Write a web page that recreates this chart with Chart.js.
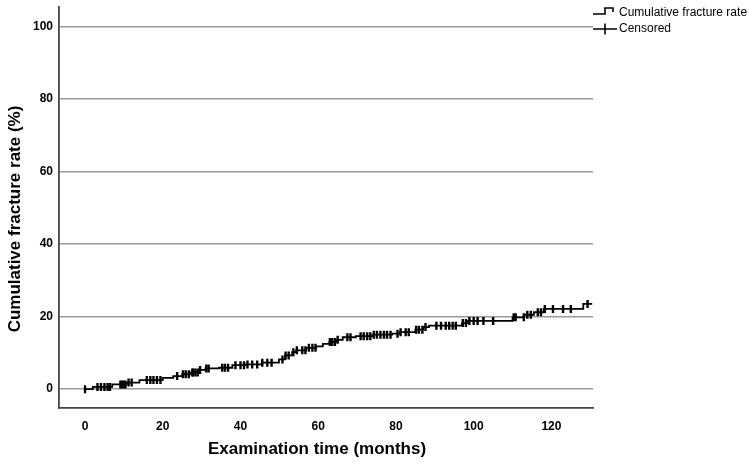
<!DOCTYPE html>
<html>
<head>
<meta charset="utf-8">
<script src="https://cdn.jsdelivr.net/npm/chart.js@4.4.1/dist/chart.umd.min.js"></script>
<style>
html,body{margin:0;padding:0;background:#fff;}
#wrap{position:relative;width:749px;height:467px;}
</style>
</head>
<body>
<div id="wrap"><canvas id="c" width="749" height="467"></canvas></div>
<script>
// Step curve: event times (months) and cumulative fracture rate (%)
const eventTimes  = [0, 2, 7, 10.7, 14, 20, 22.7, 25, 27, 29.2, 31, 34.5, 37.9, 41.3, 45.6, 49.9, 51.5, 53.3, 54.3, 56.9, 59.5, 61.2, 62.9, 64.6, 66.3, 69.7, 74, 79, 81, 85, 87, 88.5, 97, 98.5, 110, 113, 115.5, 118, 128.2, 130.5];
const eventValues = [0, 0.6, 1.3, 1.8, 2.5, 3.1, 3.6, 4.1, 4.6, 5.3, 5.7, 5.9, 6.6, 6.8, 7.3, 8.2, 9.3, 10.2, 10.7, 11.4, 11.8, 12.5, 13.0, 13.6, 14.3, 14.6, 15.0, 15.3, 15.7, 16.4, 17.1, 17.5, 18.2, 18.8, 19.8, 20.5, 21.2, 22.1, 23.5, 23.5];
// Censored observation times (months)
const censorTimes = [0, 3.2, 4.1, 5, 5.8, 6.4, 9.1, 9.5, 10, 10.4, 11.2, 12, 15.9, 16.8, 17.6, 18.5, 19.4, 23.7, 25.2, 25.9, 26.7, 27.6, 27.8, 28.4, 29, 29.6, 31.2, 31.8, 35.3, 36, 36.8, 38.7, 40, 40.9, 41.8, 43, 44.3, 45.6, 46.9, 48, 50.8, 51.6, 52.4, 53.6, 54.5, 55.9, 56.7, 57.6, 58.5, 59.3, 63, 63.6, 64.3, 65, 67.5, 68.3, 70.9, 71.7, 72.6, 73.4, 74.3, 75.1, 76, 76.9, 77.7, 78.6, 80.4, 81.2, 82.5, 83.3, 85.2, 85.9, 86.8, 87.6, 90.4, 91.6, 92.8, 93.7, 94.6, 95.4, 97.2, 98, 98.9, 100, 101, 102.5, 105, 110.3, 110.8, 112.9, 113.8, 114.7, 116.5, 117.3, 118.3, 120.4, 123, 125, 129.3];
const xTicks = [0, 20, 40, 60, 80, 100, 120];
const yTicks = [0, 20, 40, 60, 80, 100];
const xTitle = 'Examination time (months)';
const yTitle = 'Cumulative fracture rate (%)';
const legendLabels = ['Cumulative fracture rate', 'Censored'];

function valueAt(t) {
  let v = 0;
  for (let i = 0; i < eventTimes.length; i++) { if (eventTimes[i] <= t) v = eventValues[i]; }
  return v;
}
const curveData = eventTimes.map((t, i) => ({x: t, y: eventValues[i]}));
const censorData = censorTimes.map(t => ({x: t, y: valueAt(t)}));

const FONT = "'Liberation Sans', Arial, sans-serif";

const customDraw = {
  id: 'customDraw',
  afterDraw(chart) {
    const ctx = chart.ctx;
    ctx.save();
    ctx.fillStyle = '#000';
    // axis titles
    ctx.font = 'bold 17px ' + FONT;
    ctx.textAlign = 'center';
    ctx.textBaseline = 'middle';
    ctx.fillText(xTitle, 317, 449);
    ctx.save();
    ctx.translate(15, 219);
    ctx.rotate(-Math.PI / 2);
    ctx.fillText(yTitle, 0, 0);
    ctx.restore();
    // legend
    ctx.strokeStyle = '#000';
    ctx.lineWidth = 1.6;
    ctx.beginPath();
    ctx.moveTo(593, 14); ctx.lineTo(605, 14); ctx.lineTo(605, 8); ctx.lineTo(613, 8); ctx.lineTo(613, 12);
    ctx.stroke();
    ctx.beginPath();
    ctx.moveTo(593, 29); ctx.lineTo(617, 29);
    ctx.moveTo(605, 23.5); ctx.lineTo(605, 34.5);
    ctx.stroke();
    ctx.font = '12px ' + FONT;
    ctx.textAlign = 'left';
    ctx.fillText(legendLabels[0], 619, 13);
    ctx.fillText(legendLabels[1], 619, 29);
    ctx.restore();
  }
};

new Chart(document.getElementById('c'), {
  type: 'scatter',
  data: {
    datasets: [
      {
        label: legendLabels[0],
        data: curveData,
        showLine: true,
        stepped: true,
        borderColor: '#000',
        borderWidth: 1.8,
        pointRadius: 0,
        pointHoverRadius: 0,
        fill: false
      },
      {
        label: legendLabels[1],
        data: censorData,
        showLine: false,
        pointStyle: 'line',
        rotation: 90,
        pointRadius: 4,
        pointHoverRadius: 4,
        borderColor: '#000',
        backgroundColor: '#000',
        borderWidth: 2.4
      }
    ]
  },
  options: {
    responsive: false,
    animation: false,
    devicePixelRatio: 1,
    layout: {padding: {top: 5, right: 156, left: 0, bottom: 0}},
    plugins: {legend: {display: false}, tooltip: {enabled: false}},
    scales: {
      x: {
        type: 'linear',
        min: -6.7,
        max: 130.7,
        afterFit(s) { s.height = 59; s.paddingLeft = 0; s.paddingRight = 0; },
        afterBuildTicks(s) { s.ticks = xTicks.map(v => ({value: v})); },
        grid: {display: false, drawTicks: false},
        border: {display: true, color: '#444', width: 1.8},
        ticks: {padding: 11, color: '#000', font: {family: FONT, size: 12, weight: 'bold'}, maxRotation: 0},
        title: {display: false}
      },
      y: {
        type: 'linear',
        min: -5.2,
        max: 105.5,
        afterFit(s) { s.width = 59; s.paddingTop = 0; s.paddingBottom = 0; },
        afterBuildTicks(s) { s.ticks = yTicks.map(v => ({value: v})); },
        grid: {display: true, drawTicks: false, color: '#9a9a9a', lineWidth: 1.5},
        border: {display: true, color: '#444', width: 1.8},
        ticks: {padding: 6, color: '#000', font: {family: FONT, size: 12, weight: 'bold'}},
        title: {display: false}
      }
    }
  },
  plugins: [customDraw]
});
</script>
</body>
</html>
